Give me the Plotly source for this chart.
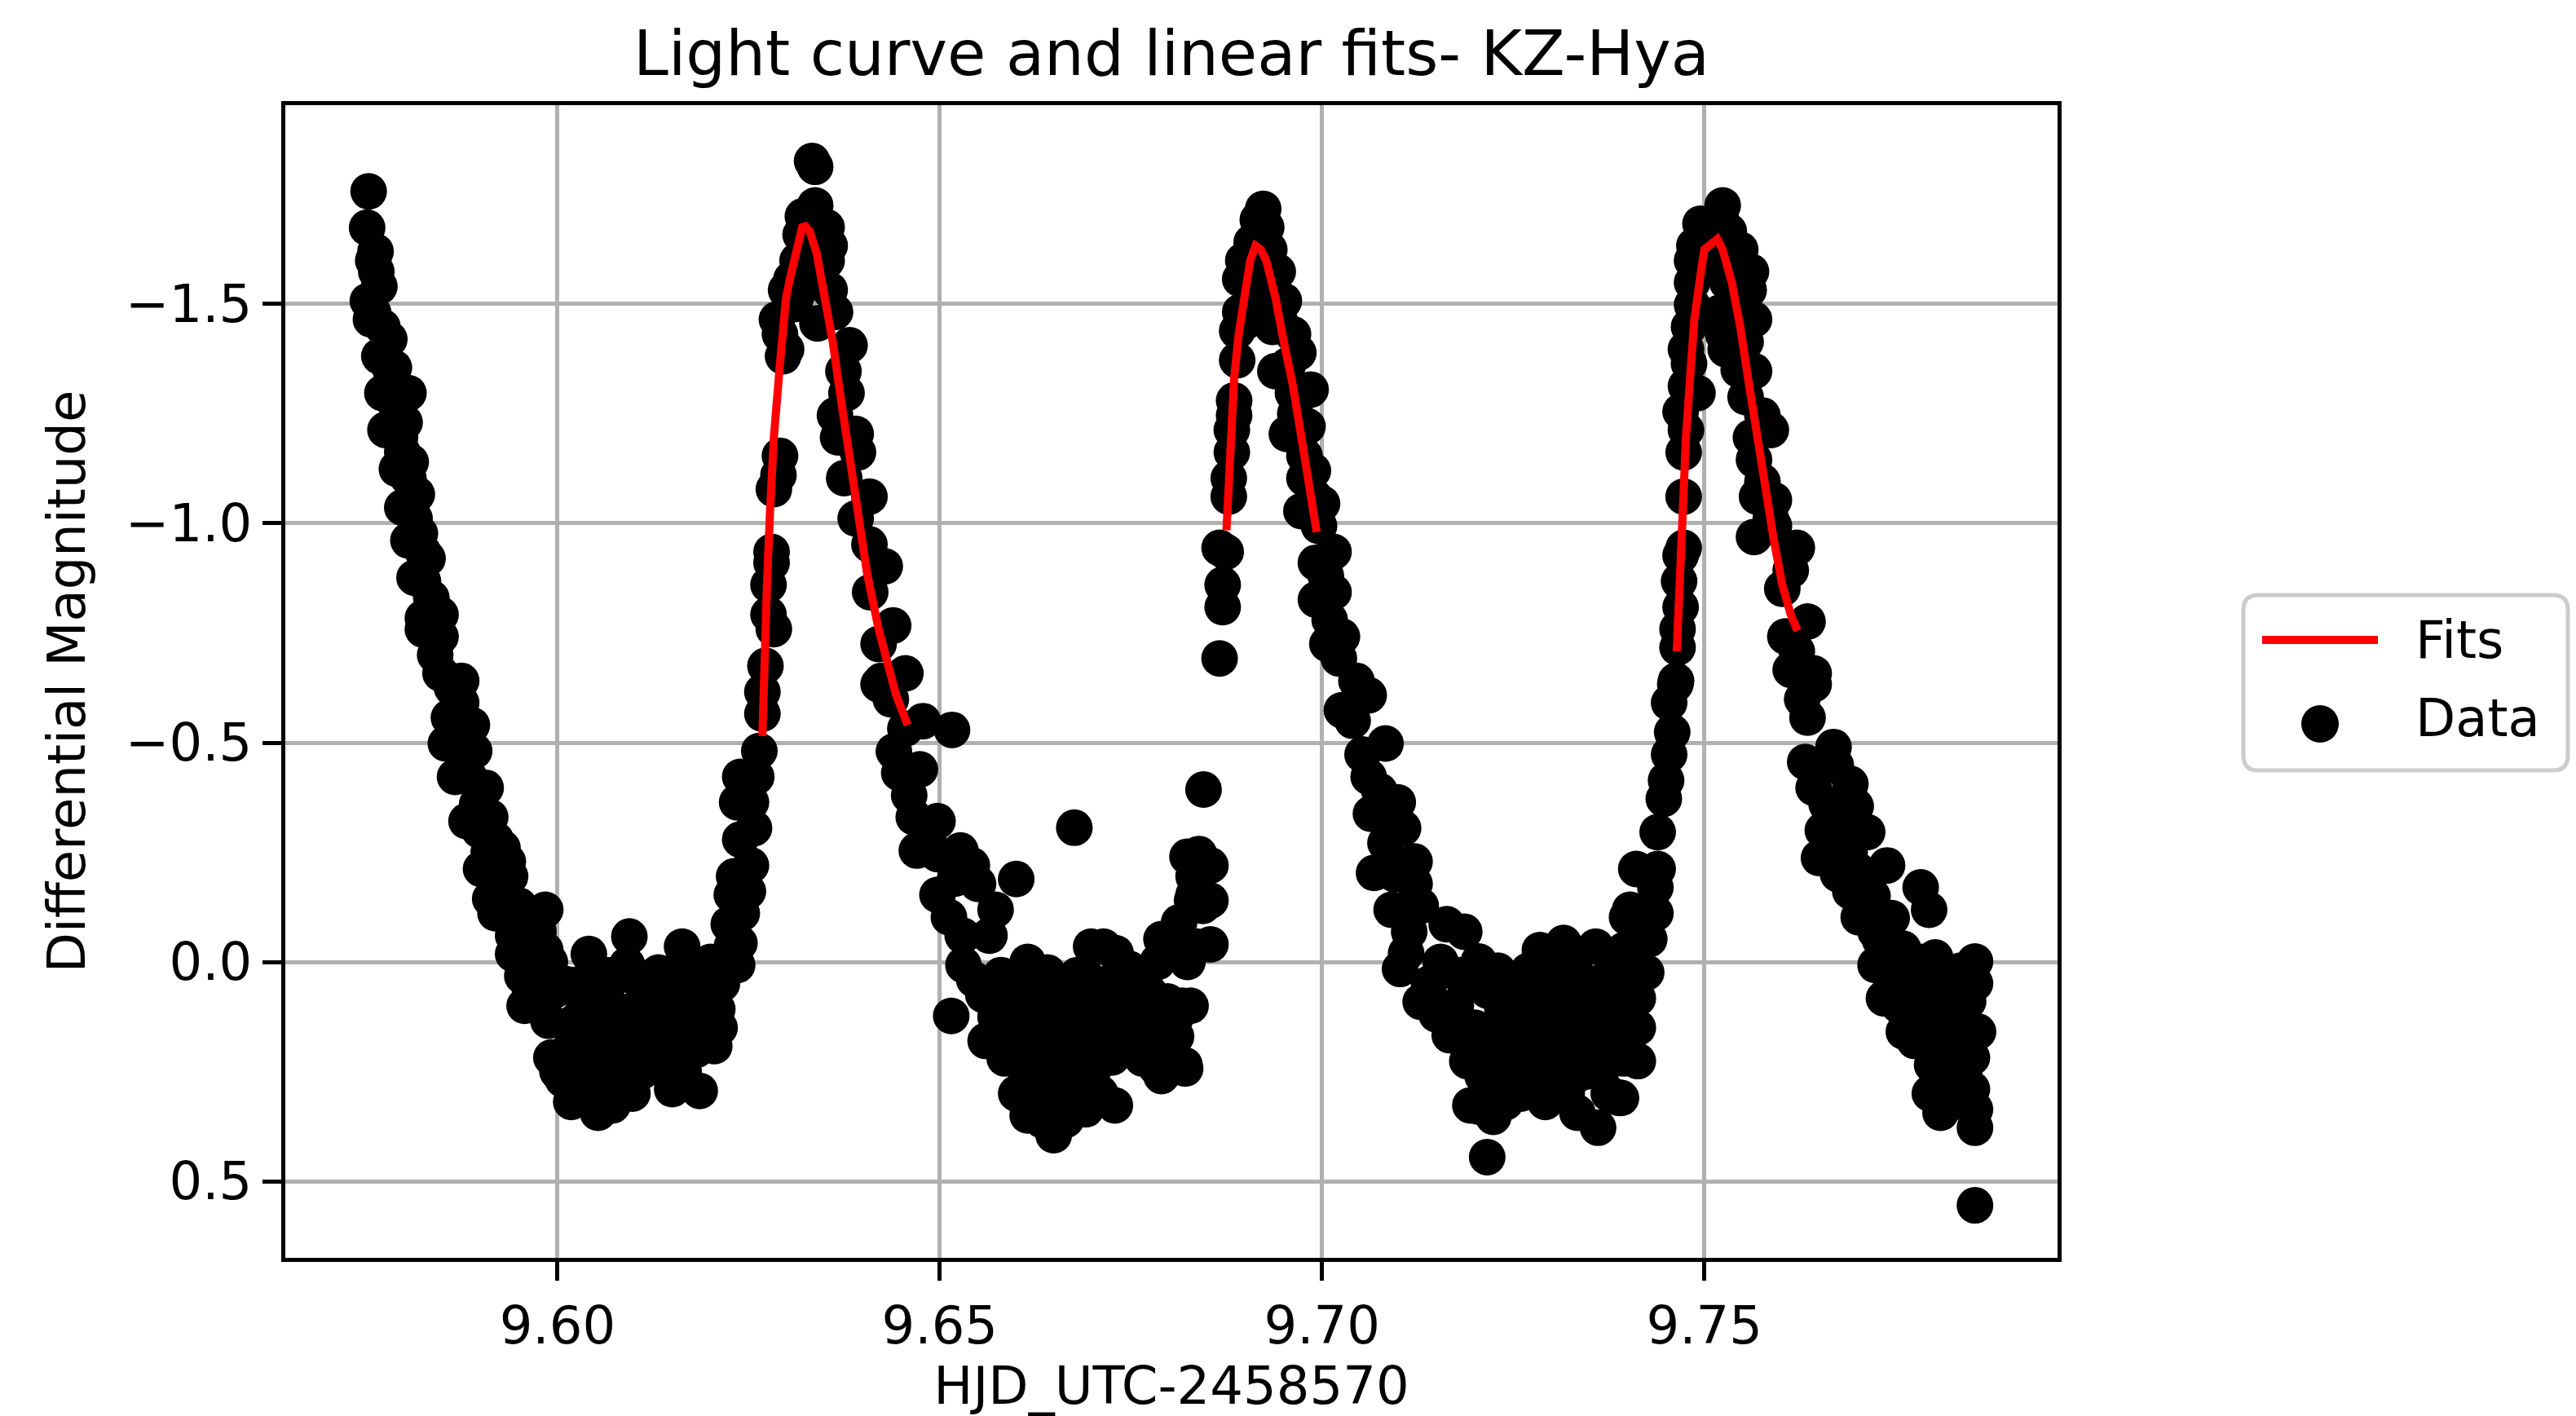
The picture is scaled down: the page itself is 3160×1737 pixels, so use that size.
import plotly.graph_objects as go

# ---------------- data (HJD_UTC-2458570, differential magnitude) ----------------
descent = [(9.5753,-1.757),(9.5751,-1.674),(9.5762,-1.620),(9.5759,-1.599),(9.5763,-1.574),(9.5767,-1.540),(9.5752,-1.507),(9.5759,-1.480),(9.5756,-1.465),(9.5771,-1.448),(9.5780,-1.420),(9.5767,-1.381),(9.5778,-1.364),(9.5786,-1.355),(9.5783,-1.330),(9.5771,-1.297),(9.5805,-1.297),(9.5790,-1.263),(9.5800,-1.230),(9.5775,-1.213),(9.5794,-1.196),(9.5797,-1.163),(9.5808,-1.140),(9.5790,-1.124),(9.5805,-1.103),(9.5816,-1.066),(9.5797,-1.036),(9.5813,-1.011),(9.5820,-0.977),(9.5805,-0.961),(9.5824,-0.935),(9.5830,-0.920),(9.5813,-0.876),(9.5824,-0.868),(9.5835,-0.830),(9.5824,-0.784),(9.5847,-0.792),(9.5824,-0.758),(9.5847,-0.742),(9.5840,-0.700),(9.5847,-0.658),(9.5874,-0.641),(9.5862,-0.625),(9.5874,-0.591),(9.5858,-0.557),(9.5888,-0.540),(9.5854,-0.498),(9.5878,-0.470),(9.5891,-0.481),(9.5866,-0.422),(9.5895,-0.360),(9.5906,-0.397),(9.5881,-0.321),(9.5912,-0.330),(9.5919,-0.279),(9.5928,-0.260),(9.5900,-0.212),(9.5935,-0.229),(9.5938,-0.195),(9.5925,-0.170),(9.5912,-0.144),(9.5919,-0.111),(9.5950,-0.128),(9.5960,-0.090),(9.5984,-0.119),(9.5942,-0.060),(9.5969,-0.043),(9.5942,-0.018),(9.5984,-0.027),(9.5965,0.010),
           (9.5870,-0.500),(9.5885,-0.420),(9.5898,-0.300),(9.5910,-0.250),(9.5930,-0.150),(9.5945,-0.100),(9.5975,-0.070),(9.5990,0.000),(9.5978,0.090),(9.5962,0.050)]

trough1 = [(9.5954,0.032),(9.5957,0.100),(9.5995,0.066),(9.5988,0.134),(9.5992,0.218),(9.6007,0.268),(9.6018,0.319),(9.6053,0.344),(9.6072,0.327),(9.6041,-0.018),(9.6094,-0.058),(9.6091,0.007),(9.6034,0.108),(9.6064,0.159),(9.6083,0.192),(9.6087,0.251),(9.6026,0.192),(9.6045,0.235),(9.6102,0.108),(9.6132,0.024),(9.6163,-0.035),(9.6152,0.024),(9.6178,0.007),(9.6205,0.058),(9.6209,0.108),(9.6205,0.192),(9.6148,0.243),(9.6125,0.209),(9.6186,0.294),(9.6170,0.150),(9.6140,0.108),(9.6010,0.050),(9.6020,0.140),(9.6050,0.060),(9.6060,0.280),(9.6070,0.100),(9.6080,0.030),(9.6100,0.180),(9.6115,0.060),(9.6120,0.150),(9.6135,0.170),(9.6155,0.200),(9.6160,0.100),(9.6190,0.080),(9.6195,0.180),(9.6110,0.250),(9.6035,0.300),(9.6000,0.250),
           (9.6015,0.200),(9.6030,0.050),(9.6040,0.150),(9.6055,0.200),(9.6058,0.100),(9.6065,0.030),(9.6075,0.220),(9.6078,0.150),(9.6090,0.120),(9.6095,0.260),(9.6105,0.040),(9.6118,0.200),(9.6128,0.100),(9.6138,0.050),(9.6145,0.170),(9.6158,0.050),(9.6165,0.250),(9.6175,0.100),(9.6182,0.200),(9.6200,0.000),(9.6212,0.150),(9.6215,0.050),(9.6025,0.260),(9.6045,0.300),(9.6098,0.300),(9.6060,0.330),(9.6150,0.290)]

rise1 = [(9.6239,-0.422),(9.6235,-0.364),(9.6239,-0.279),(9.6231,-0.195),(9.6228,-0.153),(9.6224,-0.086),(9.6228,-0.035),(9.6235,0.007),(9.6268,-0.616),(9.6268,-0.566),(9.6264,-0.481),(9.6260,-0.422),(9.6253,-0.364),(9.6257,-0.305),(9.6253,-0.220),(9.6249,-0.161),(9.6241,-0.111),(9.6238,-0.043),(9.6234,0.007),(9.6283,-0.759),(9.6272,-0.675),(9.6276,-0.792),(9.6276,-0.860),(9.6280,-0.910),(9.6280,-0.935),(9.6283,-1.078),(9.6289,-1.110),(9.6291,-1.154),(9.6295,-1.381),(9.6299,-1.397),(9.6291,-1.431),(9.6287,-1.465),(9.6299,-1.532),(9.6306,-1.557),(9.6314,-1.599),(9.6318,-1.658),(9.6321,-1.700),(9.6337,-1.725),(9.6337,-1.813),(9.6333,-1.826)]

fall1 = [(9.6352,-1.675),(9.6356,-1.633),(9.6352,-1.599),(9.6356,-1.532),(9.6340,-1.456),(9.6363,-1.482),(9.6382,-1.406),(9.6374,-1.347),(9.6378,-1.297),(9.6363,-1.246),(9.6390,-1.204),(9.6367,-1.196),(9.6393,-1.162),(9.6375,-1.103),(9.6408,-1.061),(9.6390,-1.011),(9.6408,-0.952),(9.6428,-0.902),(9.6409,-0.843),(9.6439,-0.767),(9.6420,-0.725),(9.6455,-0.658),(9.6424,-0.641),(9.6310,-1.500),(9.6325,-1.550),(9.6345,-1.580),(9.6330,-1.680),(9.6345,-1.640),(9.6313,-1.520),(9.6420,-0.633),(9.6436,-0.599),(9.6455,-0.532),(9.6478,-0.549),(9.6516,-0.529),(9.6447,-0.431),(9.6474,-0.439),(9.6440,-0.480),(9.6460,-0.380),(9.6466,-0.330),(9.6497,-0.321),(9.6470,-0.254),(9.6497,-0.246),(9.6485,-0.290),(9.6527,-0.254),(9.6542,-0.220),(9.6497,-0.153),(9.6550,-0.178),(9.6520,-0.190)]

trough2 = [(9.6573,-0.119),(9.6600,-0.189),(9.6676,-0.306),(9.6512,-0.102),(9.6565,-0.060),(9.6531,0.007),(9.6530,-0.060),(9.6545,0.040),(9.6515,0.123),(9.6557,0.075),(9.6573,0.125),(9.6580,0.030),(9.6592,0.184),(9.6600,0.100),(9.6611,0.243),(9.6620,0.150),(9.6625,0.200),(9.6634,0.294),(9.6649,0.395),(9.6634,0.361),(9.6600,0.300),(9.6655,0.320),(9.6691,0.336),(9.6729,0.327),(9.6710,0.300),(9.6675,0.280),(9.6698,-0.035),(9.6714,-0.035),(9.6680,0.030),(9.6730,-0.020),(9.6748,0.016),(9.6641,0.024),(9.6611,0.066),(9.6668,0.108),(9.6706,0.150),(9.6725,0.218),(9.6687,0.235),(9.6649,0.235),(9.6649,0.150),(9.6660,0.200),(9.6700,0.050),(9.6720,0.100),(9.6735,0.180),(9.6744,0.066),(9.6760,0.050),(9.6770,0.130),(9.6790,-0.052),(9.6790,0.260),(9.6820,0.235),(9.6809,0.125),(9.6824,0.000),(9.6796,-0.020),(9.6813,-0.090),(9.6774,0.070),(9.6783,0.240),(9.6809,0.170),(9.6798,0.090),(9.6817,0.100),(9.6839,-0.246),(9.6832,-0.195),(9.6832,-0.153),(9.6824,-0.240),(9.6830,-0.140),(9.6845,-0.393),(9.6854,-0.220),(9.6854,-0.140),(9.6854,-0.040),(9.6840,-0.212),(9.6844,-0.128),(9.6836,-0.035),(9.6828,0.100),(9.6821,0.243),
           (9.6560,0.180),(9.6585,0.220),(9.6605,0.300),(9.6615,0.350),(9.6628,0.250),(9.6640,0.330),(9.6645,0.100),(9.6655,0.050),(9.6662,0.150),(9.6670,0.220),(9.6682,0.180),(9.6695,0.100),(9.6700,0.250),(9.6712,0.200),(9.6718,0.050),(9.6740,0.120),(9.6752,0.200),(9.6765,0.220),(9.6778,0.150),(9.6785,0.000),(9.6800,0.200),(9.6615,0.000),(9.6595,0.050),(9.6665,0.360),(9.6690,0.030),(9.6638,0.200),(9.6590,0.130),(9.6625,0.080)]

peak2 = [(9.6866,-0.692),(9.6866,-0.944),(9.6870,-0.809),(9.6870,-0.860),(9.6874,-0.935),(9.6878,-1.061),(9.6878,-1.103),(9.6882,-1.162),(9.6882,-1.213),(9.6885,-1.246),(9.6885,-1.280),(9.6889,-1.372),(9.6889,-1.439),(9.6893,-1.482),(9.6893,-1.557),(9.6897,-1.599),(9.6908,-1.641),(9.6916,-1.692),(9.6923,-1.717),(9.6905,-1.580),(9.6912,-1.520),(9.6920,-1.600),(9.6900,-1.460),(9.6927,-1.675),(9.6931,-1.624),(9.6942,-1.574),(9.6950,-1.507),(9.6923,-1.498),(9.6935,-1.448),(9.6945,-1.460),(9.6962,-1.431),(9.6969,-1.389),(9.6955,-1.360),(9.6939,-1.347),(9.6962,-1.297),(9.6985,-1.305),(9.6965,-1.250),(9.6954,-1.204),(9.6981,-1.221),(9.6977,-1.154),(9.6977,-1.103),(9.6988,-1.120),(9.6990,-1.060),(9.7000,-1.045),(9.6973,-1.028),(9.6996,-0.994),(9.7015,-0.935),(9.6992,-0.910),(9.7005,-0.880),(9.7015,-0.843),(9.6992,-0.826),(9.7010,-0.780),(9.7007,-0.725),(9.7022,-0.692),(9.7026,-0.742),(9.7045,-0.641)]

trough3 = [(9.7026,-0.574),(9.7061,-0.608),(9.7040,-0.550),(9.7083,-0.498),(9.7053,-0.473),(9.7061,-0.422),(9.7075,-0.390),(9.7099,-0.364),(9.7064,-0.338),(9.7106,-0.305),(9.7083,-0.271),(9.7121,-0.229),(9.7068,-0.203),(9.7095,-0.200),(9.7121,-0.178),(9.7091,-0.119),(9.7129,-0.128),(9.7114,-0.069),(9.7110,-0.020),(9.7102,0.016),(9.7129,0.091),(9.7140,0.050),(9.7150,0.120),(9.7163,-0.086),(9.7186,-0.069),(9.7180,0.030),(9.7205,-0.001),(9.7167,0.167),(9.7200,0.150),(9.7190,0.226),(9.7210,0.260),(9.7194,0.327),(9.7224,0.353),(9.7216,0.445),(9.7240,0.250),(9.7260,0.300),(9.7230,0.020),(9.7250,0.120),(9.7270,0.020),(9.7285,-0.027),(9.7316,-0.043),(9.7358,-0.035),(9.7396,-0.010),(9.7350,0.049),(9.7300,0.080),(9.7300,0.220),(9.7320,0.050),(9.7340,0.120),(9.7320,0.300),(9.7292,0.319),(9.7334,0.344),(9.7361,0.378),(9.7388,0.310),(9.7365,0.250),(9.7236,0.108),(9.7255,0.192),(9.7312,0.150),(9.7350,0.192),(9.7388,0.150),(9.7395,0.220),(9.7274,0.066),(9.7217,0.066),(9.7331,0.260),(9.7370,0.080),(9.7380,0.010),(9.7403,-0.119),(9.7411,-0.212),
           (9.7155,0.000),(9.7175,0.100),(9.7185,0.150),(9.7195,0.050),(9.7215,0.160),(9.7225,0.200),(9.7245,0.050),(9.7262,0.160),(9.7268,0.240),(9.7280,0.120),(9.7285,0.200),(9.7295,0.020),(9.7305,0.280),(9.7310,0.100),(9.7325,0.180),(9.7330,0.000),(9.7345,0.250),(9.7345,0.050),(9.7355,0.140),(9.7375,0.200),(9.7375,0.300),(9.7385,0.080),(9.7400,0.050),(9.7405,0.150),(9.7280,0.280),(9.7240,0.320),(9.7205,0.330)]

peak3 = [(9.7462,-0.633),(9.7454,-0.591),(9.7458,-0.524),(9.7454,-0.473),(9.7450,-0.414),(9.7447,-0.372),(9.7439,-0.296),(9.7439,-0.212),(9.7436,-0.170),(9.7436,-0.111),(9.7428,-0.052),(9.7424,0.024),(9.7413,0.083),(9.7413,0.150),(9.7413,0.226),(9.7399,-0.102),(9.7395,-0.027),(9.7391,0.310),(9.7465,-0.717),(9.7463,-0.641),(9.7465,-0.759),(9.7469,-0.809),(9.7467,-0.868),(9.7469,-0.927),(9.7473,-0.944),(9.7473,-1.061),(9.7473,-1.162),(9.7476,-1.213),(9.7469,-1.255),(9.7476,-1.313),(9.7480,-1.364),(9.7476,-1.397),(9.7480,-1.448),(9.7484,-1.498),(9.7484,-1.549),(9.7484,-1.599),(9.7487,-1.633),(9.7495,-1.683),(9.7491,-1.297),(9.7500,-1.620),(9.7510,-1.660),(9.7524,-1.725),(9.7521,-1.700),(9.7532,-1.666),(9.7515,-1.600),(9.7547,-1.624),(9.7530,-1.550),(9.7561,-1.574),(9.7540,-1.500),(9.7558,-1.532),(9.7520,-1.480),(9.7565,-1.465),(9.7525,-1.430),(9.7554,-1.414),(9.7528,-1.397),(9.7545,-1.350),(9.7565,-1.347),(9.7554,-1.288),(9.7576,-1.246),(9.7587,-1.213),(9.7561,-1.196),(9.7565,-1.145),(9.7576,-1.095),(9.7591,-1.053),(9.7569,-1.061),(9.7587,-1.011),(9.7565,-0.969),(9.7591,-0.994),(9.7621,-0.944),(9.7613,-0.893),(9.7602,-0.851),(9.7635,-0.776),(9.7606,-0.742),(9.7621,-0.708),(9.7643,-0.658),(9.7613,-0.666)]

tail = [(9.7643,-0.633),(9.7628,-0.599),(9.7635,-0.557),(9.7669,-0.490),(9.7632,-0.456),(9.7672,-0.448),(9.7691,-0.406),(9.7643,-0.397),(9.7660,-0.360),(9.7698,-0.355),(9.7669,-0.313),(9.7713,-0.296),(9.7680,-0.270),(9.7650,-0.237),(9.7739,-0.220),(9.7700,-0.210),(9.7783,-0.170),(9.7720,-0.150),(9.7794,-0.119),(9.7691,-0.161),(9.7702,-0.102),(9.7745,-0.100),(9.7724,-0.069),(9.7760,-0.030),(9.7802,-0.010),(9.7854,-0.001),(9.7724,0.007),(9.7835,0.020),(9.7750,0.050),(9.7735,0.083),(9.7845,0.090),(9.7770,0.100),(9.7790,0.120),(9.7761,0.159),(9.7780,0.049),(9.7854,0.049),(9.7817,0.075),(9.7830,0.140),(9.7858,0.159),(9.7800,0.190),(9.7798,0.235),(9.7850,0.218),(9.7840,0.260),(9.7817,0.277),(9.7825,0.320),(9.7809,0.344),(9.7854,0.336),(9.7854,0.378),(9.7854,0.555),
        (9.7655,-0.300),(9.7675,-0.200),(9.7690,-0.250),(9.7710,-0.120),(9.7730,-0.050),(9.7740,0.000),(9.7755,0.100),(9.7765,0.050),(9.7775,0.180),(9.7785,0.000),(9.7810,0.150),(9.7820,0.220),(9.7805,0.280),(9.7835,0.300),(9.7845,0.200),(9.7815,0.030),(9.7795,0.300),(9.7850,0.290)]

# fitted curves (one per maximum)
fit1_hjd = [9.6268, 9.6270, 9.6274, 9.6278, 9.6283, 9.6291, 9.6299, 9.6304, 9.6312, 9.6320, 9.6324, 9.6330, 9.6339, 9.6348, 9.6360, 9.6371, 9.6382, 9.6394, 9.6405, 9.6420, 9.6435, 9.6443, 9.6458]
fit1_mag = [-0.515, -0.692, -0.860, -1.028, -1.196, -1.364, -1.515, -1.557, -1.624, -1.675, -1.677, -1.666, -1.616, -1.532, -1.414, -1.280, -1.145, -1.011, -0.885, -0.759, -0.650, -0.608, -0.540]
fit2_hjd = [9.6875, 9.6878, 9.6882, 9.6885, 9.6891, 9.6899, 9.6906, 9.6913, 9.6920, 9.6927, 9.6939, 9.6950, 9.6962, 9.6973, 9.6984, 9.6993]
fit2_mag = [-0.984, -1.112, -1.229, -1.330, -1.431, -1.532, -1.599, -1.633, -1.624, -1.599, -1.515, -1.414, -1.313, -1.196, -1.078, -0.980]
fit3_hjd = [9.7464, 9.7467, 9.7471, 9.7476, 9.7482, 9.7487, 9.7495, 9.7500, 9.7517, 9.7524, 9.7536, 9.7547, 9.7558, 9.7569, 9.7580, 9.7591, 9.7602, 9.7613, 9.7622]
fit3_mag = [-0.708, -0.860, -1.028, -1.196, -1.347, -1.465, -1.566, -1.624, -1.648, -1.624, -1.549, -1.448, -1.322, -1.196, -1.070, -0.961, -0.860, -0.792, -0.755]

x_ticks = [9.60, 9.65, 9.70, 9.75]
y_ticks = [-1.5, -1.0, -0.5, 0.0, 0.5]

# ---------------- figure ----------------
FONT = "DejaVu Sans"
W, H = 3160, 1737
ML, MR, MT, MB = 350, 636, 129, 194

segments = [descent, trough1, rise1, fall1, trough2, peak2, trough3, peak3, tail]
data_x = [p[0] for seg in segments for p in seg]
data_y = [p[1] for seg in segments for p in seg]

fig = go.Figure()
fig.add_trace(go.Scatter(
    x=data_x, y=data_y, mode="markers", name="Data", showlegend=False,
    marker=dict(size=45, color="black", line=dict(width=0)),
))
for fx, fy in [(fit1_hjd, fit1_mag), (fit2_hjd, fit2_mag), (fit3_hjd, fit3_mag)]:
    assert len(fx) == len(fy)
    fig.add_trace(go.Scatter(
        x=fx, y=fy, mode="lines", name="Fits", showlegend=False,
        line=dict(color="red", width=10),
    ))

axis_common = dict(
    showgrid=True, gridcolor="#b0b0b0", gridwidth=5,
    showline=True, linecolor="black", linewidth=5, mirror=True,
    ticks="outside", ticklen=23, tickwidth=5, tickcolor="black",
    zeroline=False, automargin=False,
    tickfont=dict(family=FONT, size=64, color="black"),
)

fig.update_layout(
    template="none",
    width=W, height=H,
    margin=dict(l=ML, r=MR, t=MT, b=MB, pad=0, autoexpand=False),
    paper_bgcolor="white", plot_bgcolor="white",
    font=dict(family=FONT, color="black", size=64),
    title=dict(text="Light curve and linear fits- KZ-Hya", x=0.5, xref="paper",
               xanchor="center",
               y=1, yref="paper", yanchor="bottom", pad=dict(b=37, t=0, l=0, r=0),
               font=dict(family=FONT, size=77, color="black")),
    xaxis=dict(range=[9.5644, 9.7962], tickmode="array", tickvals=x_ticks,
               tickformat=".2f",
               title=dict(text="HJD_UTC-2458570", standoff=26,
                          font=dict(family=FONT, size=64, color="black")),
               **axis_common),
    yaxis=dict(range=[0.6747, -1.9535], tickmode="array", tickvals=y_ticks,
               tickformat=".1f",
               title=dict(text="Differential Magnitude", standoff=30,
                          font=dict(family=FONT, size=64, color="black")),
               **axis_common),
    showlegend=False,
)

# ---------------- legend (drawn outside the axes, right side) ----------------
pw, ph = W - ML - MR, H - MT - MB
def px_x(p):
    return (p - ML) / pw
def px_y(p):
    return (H - MB - p) / ph

bx0, bx1, by0, by1 = px_x(2752), px_x(3150), px_y(945), px_y(730)
rx, ry = 18 / pw, 18 / ph
path = (f"M {bx0+rx},{by0} L {bx1-rx},{by0} Q {bx1},{by0} {bx1},{by0+ry} "
        f"L {bx1},{by1-ry} Q {bx1},{by1} {bx1-rx},{by1} L {bx0+rx},{by1} "
        f"Q {bx0},{by1} {bx0},{by1-ry} L {bx0},{by0+ry} Q {bx0},{by0} {bx0+rx},{by0} Z")
fig.add_shape(type="path", path=path, xref="paper", yref="paper",
              line=dict(color="#cccccc", width=5), fillcolor="white", layer="above")
fig.add_shape(type="line", xref="paper", yref="paper",
              x0=px_x(2775), x1=px_x(2917), y0=px_y(785), y1=px_y(785),
              line=dict(color="red", width=10), layer="above")
cx, cy, r = 2846, 888, 23
fig.add_shape(type="circle", xref="paper", yref="paper",
              x0=px_x(cx - r), x1=px_x(cx + r), y0=px_y(cy + r), y1=px_y(cy - r),
              line=dict(width=0), fillcolor="black", layer="above")
for label, ypx in [("Fits", 785), ("Data", 881)]:
    fig.add_annotation(text=label, xref="paper", yref="paper",
                       x=px_x(2961), y=px_y(ypx), xanchor="left", yanchor="middle",
                       showarrow=False, font=dict(family=FONT, size=64, color="black"))

# remove the browser's default 8px body margin so the figure sits at the page origin
fig.write_html("out.html", config={"displayModeBar": False},
               post_script="document.body.style.margin='0';")
